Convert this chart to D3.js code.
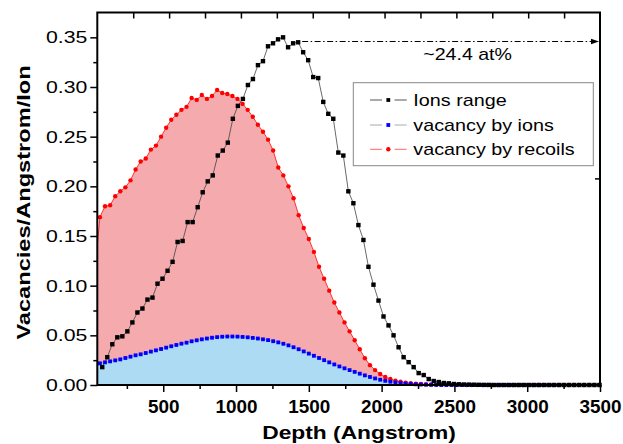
<!DOCTYPE html>
<html><head><meta charset="utf-8">
<script src="https://cdn.jsdelivr.net/npm/d3@7"></script>
<style>
body{margin:0;background:#fff;}
svg{display:block;font-family:"Liberation Sans",Arial,sans-serif;}
</style>
</head><body>
<svg id="c" width="623" height="444"></svg>
<script>
// ---------------- data ----------------
const depthIons = [81,115.5,150,184.5,219,253.5,288,322.5,357,391.5,
426,460.5,495,529.5,564,598.5,633,667.5,702,736.5,
771,805.5,840,874.5,909,943.5,978,1012.5,1047,1081.5,
1116,1150.5,1185,1219.5,1254,1288.5,1323,1357.5,1392,1426.5,
1461,1495.5,1530,1564.5,1599,1633.5,1668,1702.5,1737,1771.5,
1806,1840.5,1875,1909.5,1944,1978.5,2013,2047.5,2082,2116.5,
2151,2185.5,2220,2254.5,2289,2323.5,2358,2392.5,2427,2461.5,
2496,2530.5,2565,2599.5,2634,2668.5,2703,2737.5,2772,2806.5,
2841,2875.5,2910,2944.5,2979,3013.5,3048,3082.5,3117,3151.5,
3186,3220.5,3255,3289.5,3324,3358.5,3393,3427.5,3462,3496.5];
const ionsRange = [0.018,0.028,0.041,0.048,0.049,0.054,0.063,0.073,0.077,0.086,
0.088,0.102,0.107,0.115,0.124,0.144,0.145,0.164,0.164,0.179,
0.194,0.205,0.211,0.231,0.236,0.244,0.268,0.281,0.288,0.302,
0.308,0.322,0.326,0.341,0.344,0.348,0.350,0.340,0.344,0.345,
0.335,0.327,0.310,0.309,0.285,0.273,0.268,0.234,0.231,0.195,
0.183,0.161,0.146,0.119,0.101,0.085,0.069,0.060,0.050,0.038,
0.028,0.023,0.018,0.012,0.010,0.006,0.004,0.003,0.002,0.0017,
0.0010,0.0007,0.0005,0.0004,0.0003,0.0002,0.0001,0.0001,0,0,
0,0,0,0,0,0,0,0,0,0,
0,0,0,0,0,0,0,0,0,0];
const depthVac = [30,65,100,135,170,205,240,275,310,345,
380,415,450,485,520,555,590,625,660,695,
730,765,800,835,870,905,940,975,1010,1045,
1080,1115,1150,1185,1220,1255,1290,1325,1360,1395,
1430,1465,1500,1535,1570,1605,1640,1675,1710,1745,
1780,1815,1850,1885,1920,1955,1990,2025,2060,2095,
2130,2165,2200,2235,2270,2305,2340,2375,2410,2445,
2480,2515,2550,2585,2620,2655,2690,2725,2760,2795,
2830,2865,2900,2935,2970,3005,3040,3075,3110,3145,
3180,3215,3250,3285,3320,3355,3390,3425,3460,3495];
const vacByIons = [0.0208,
0.0218,0.0228,0.0238,0.0248,0.0258,0.0272,0.0285,0.0299,0.0309,0.0322,
0.0336,0.0349,0.0362,0.0376,0.0390,0.0403,0.0416,0.0426,0.0440,0.0450,
0.0460,0.0468,0.0476,0.0482,0.0486,0.0488,0.0488,0.0487,0.0484,0.0480,
0.0474,0.0468,0.0460,0.0452,0.0441,0.0429,0.0415,0.0399,0.0380,0.0360,
0.0338,0.0316,0.0294,0.0272,0.0250,0.0228,0.0207,0.0187,0.0168,0.0150,
0.0132,0.0114,0.0097,0.0081,0.0066,0.0053,0.0042,0.0033,0.0025,0.0019,
0.0014,0.0010,0.0007,0.0005,0.0003,0.0002,0.0001,0,0,0,
0,0,0,0,0,0,0,0,0,0,
0,0,0,0,0,0,0,0,0,0,
0,0,0,0,0,0,0,0,0];
const vacByRecoils = [0.113,
0.169,0.180,0.181,0.190,0.195,0.199,0.206,0.217,0.225,0.228,
0.237,0.241,0.250,0.259,0.267,0.272,0.277,0.280,0.289,0.287,
0.292,0.288,0.291,0.297,0.294,0.293,0.291,0.288,0.283,0.277,
0.270,0.262,0.255,0.247,0.236,0.219,0.211,0.200,0.188,0.171,
0.158,0.147,0.134,0.119,0.107,0.095,0.083,0.073,0.063,0.054,
0.045,0.036,0.027,0.020,0.015,0.011,0.008,0.006,0.0043,0.0033,
0.0023,0.0017,0.0013,0.0010,0.0007,0.0005,0.0004,0.0003,0.0002,0.0001,
0.0001,0.0001,0,0,0,0,0,0,0,0,
0,0,0,0,0,0,0,0,0,0,
0,0,0,0,0,0,0,0,0];
const seriesNames = ["Ions range","vacancy by ions","vacancy by recoils"];
const xMajorTicks = [500,1000,1500,2000,2500,3000,3500];
const xMinorTicks = [250,750,1250,1750,2250,2750,3250];
const xTopTicks = [250,500,750,1000,1250,1500,1750,2000,2250,2500,2750,3000,3250];
const yMajorTicks = [0,0.05,0.10,0.15,0.20,0.25,0.30,0.35];
const yMinorTicks = [0.025,0.075,0.125,0.175,0.225,0.275,0.325];
const yRightTicks = [0.208];
const annotation = {text:"~24.4 at%", fromDepth:1426.5, toDepth:3500, value:0.3458, textDepth:2286, textValue:0.327};
const xTitle = "Depth (Angstrom)";
const yTitle = "Vacancies/Angstrom/Ion";

// ---------------- layout ----------------
const L=97.3, R=600, T=12.5, B=385;
const svg = d3.select("#c");
const x = d3.scaleLinear().domain([47,3500]).range([L,R]);
const xTop = d3.scaleLinear().domain([0,3500]).range([L,R]);
const y = d3.scaleLinear().domain([0,0.375]).range([B,T]);

const colPink = "#f5abae", colLBlue = "#acdbf3";

svg.append("defs").append("clipPath").attr("id","clip")
  .append("rect").attr("x",L).attr("y",0).attr("width",R-L+4).attr("height",B+6);

const plot = svg.append("g").attr("clip-path","url(#clip)");

const red = depthVac.map((d,i)=>[d,vacByRecoils[i]]);
const blue = depthVac.map((d,i)=>[d,vacByIons[i]]);
const blk = depthIons.map((d,i)=>[d,ionsRange[i]]);

const area = d3.area().x(d=>x(d[0])).y0(y(0)).y1(d=>y(d[1]));
const line = d3.line().x(d=>x(d[0])).y(d=>y(d[1]));

plot.append("path").datum(red).attr("d",area).attr("fill",colPink);
plot.append("path").datum(blue).attr("d",area).attr("fill",colLBlue);

plot.append("path").datum(red).attr("d",line).attr("fill","none").attr("stroke","#ff2020").attr("stroke-width",0.9);
plot.append("path").datum(blue).attr("d",line).attr("fill","none").attr("stroke","#8888cc").attr("stroke-width",0.8);
plot.append("path").datum(blk).attr("d",line).attr("fill","none").attr("stroke","#444").attr("stroke-width",0.8);

plot.selectAll(".rd").data(red).join("circle")
  .attr("cx",d=>x(d[0])).attr("cy",d=>y(d[1])).attr("r",2.2).attr("fill","#ff0000");
plot.selectAll(".bs").data(blue).join("rect")
  .attr("x",d=>x(d[0])-1.9).attr("y",d=>y(d[1])-1.9).attr("width",3.8).attr("height",3.8).attr("fill","#0000ff");
plot.selectAll(".ks").data(blk).join("rect")
  .attr("x",d=>x(d[0])-2.2).attr("y",d=>y(d[1])-2.2).attr("width",4.4).attr("height",4.4).attr("fill","#000");

// ---------------- annotation ----------------
const ay = y(annotation.value);
svg.append("line").attr("x1",x(annotation.fromDepth)+4).attr("x2",x(annotation.toDepth)-8)
  .attr("y1",ay).attr("y2",ay).attr("stroke","#000").attr("stroke-width",1)
  .attr("stroke-dasharray","6,2.5,1.5,2.5");
svg.append("path").attr("d",`M${x(annotation.toDepth)-9},${ay-2.8}L${x(annotation.toDepth)-1},${ay}L${x(annotation.toDepth)-9},${ay+2.8}Z`).attr("fill","#000");

function stext(sel, px, py, str, opt){
  const t = sel.append("text").text(str)
    .attr("transform",`translate(${px},${py})${opt.rot?` rotate(${opt.rot})`:""} scale(${opt.sx||1},1)`)
    .attr("text-anchor",opt.anchor||"start")
    .attr("font-size",opt.size).attr("font-weight",opt.weight||"normal").attr("fill","#000");
  return t;
}
stext(svg, x(annotation.textDepth), y(annotation.textValue), annotation.text, {size:15.8, sx:1.24});

// ---------------- axes ----------------
const axB = svg.append("g").attr("transform",`translate(0,${B})`)
  .call(d3.axisBottom(x).tickValues(xMajorTicks).tickSize(7).tickSizeOuter(0).tickFormat(d3.format("d")));
axB.select(".domain").remove();
axB.selectAll("line").attr("stroke","#000").attr("stroke-width",1.5);
axB.selectAll("text").attr("y",28.3).attr("dy",0).attr("font-size",18).attr("font-weight","bold")
  .attr("font-family","'Liberation Sans',Arial,sans-serif").attr("fill","#000")
  .attr("transform","scale(1.05,1)");
const axBm = svg.append("g").attr("transform",`translate(0,${B})`)
  .call(d3.axisBottom(x).tickValues(xMinorTicks).tickSize(4).tickSizeOuter(0).tickFormat(""));
axBm.select(".domain").remove();
axBm.selectAll("line").attr("stroke","#000").attr("stroke-width",1.5);

const axL = svg.append("g").attr("transform",`translate(${L},0)`)
  .call(d3.axisLeft(y).tickValues(yMajorTicks).tickSize(7).tickSizeOuter(0).tickFormat(d3.format(".2f")));
axL.select(".domain").remove();
axL.selectAll("line").attr("stroke","#000").attr("stroke-width",1.5);
axL.selectAll("text").attr("x",0).attr("font-size",17)
  .attr("font-family","'Liberation Sans',Arial,sans-serif").attr("fill","#000")
  .attr("transform","translate(-10,0) scale(1.25,1)");
const axLm = svg.append("g").attr("transform",`translate(${L},0)`)
  .call(d3.axisLeft(y).tickValues(yMinorTicks).tickSize(4).tickSizeOuter(0).tickFormat(""));
axLm.select(".domain").remove();
axLm.selectAll("line").attr("stroke","#000").attr("stroke-width",1.5);

const axT = svg.append("g").attr("transform",`translate(0,${T})`)
  .call(d3.axisBottom(xTop).tickValues(xTopTicks).tickSize(6).tickSizeOuter(0).tickFormat(""));
axT.select(".domain").remove();
axT.selectAll("line").attr("stroke","#000").attr("stroke-width",1.5);

const axR = svg.append("g").attr("transform",`translate(${R},0)`)
  .call(d3.axisLeft(y).tickValues(yRightTicks).tickSize(5).tickSizeOuter(0).tickFormat(""));
axR.select(".domain").remove();
axR.selectAll("line").attr("stroke","#000").attr("stroke-width",1.5);

// frame
svg.append("rect").attr("x",L).attr("y",T).attr("width",R-L).attr("height",B-T)
  .attr("fill","none").attr("stroke","#000").attr("stroke-width",2);

// titles
stext(svg, 359, 439.3, xTitle, {size:19, weight:"bold", anchor:"middle", sx:1.2});
stext(svg, 30, 202.5, yTitle, {size:18.6, weight:"bold", anchor:"middle", sx:1.27, rot:-90});

// ---------------- legend ----------------
const lg = svg.append("g");
lg.append("rect").attr("x",353.3).attr("y",82.7).attr("width",240).attr("height",83)
  .attr("fill","#fff").attr("stroke","#888").attr("stroke-width",1);
const legRows = [
  {name:seriesNames[0], line:"#555", mark:"sq", col:"#000", cy:100},
  {name:seriesNames[1], line:"#aaa", mark:"sq", col:"#0000ff", cy:125},
  {name:seriesNames[2], line:"#ff6a6a", mark:"ci", col:"#ff0000", cy:149.3}
];
legRows.forEach(r=>{
  lg.append("line").attr("x1",370).attr("x2",382).attr("y1",r.cy).attr("y2",r.cy).attr("stroke",r.line).attr("stroke-width",1);
  lg.append("line").attr("x1",394.5).attr("x2",406.7).attr("y1",r.cy).attr("y2",r.cy).attr("stroke",r.line).attr("stroke-width",1);
  if(r.mark==="sq") lg.append("rect").attr("x",388.3-1.9).attr("y",r.cy-1.9).attr("width",3.8).attr("height",3.8).attr("fill",r.col);
  else lg.append("circle").attr("cx",388.3).attr("cy",r.cy).attr("r",2.2).attr("fill",r.col);
  stext(lg, 413.3, r.cy+5.8, r.name, {size:16.2, sx:1.22});
});
</script>
</body></html>
